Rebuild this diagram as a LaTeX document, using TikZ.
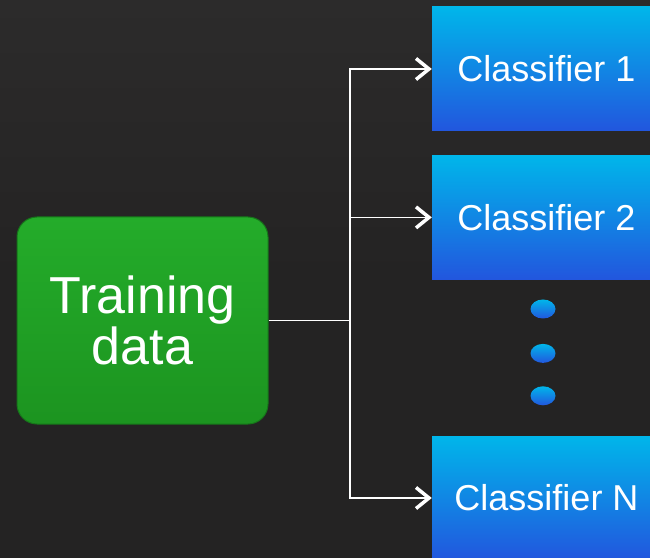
\documentclass[tikz,border=0pt]{standalone}
\usepackage{fontspec}
\setmainfont{Liberation Sans}
\usepackage{tikz}
\usepackage{xcolor}
\definecolor{back}{RGB}{36,35,35}
\definecolor{backtop}{RGB}{44,43,43}
\definecolor{greentop}{RGB}{36,172,42}
\definecolor{greenbot}{RGB}{28,148,32}
\definecolor{greenedge}{RGB}{22,118,26}
\definecolor{bluetop}{RGB}{0,182,234}
\definecolor{bluebot}{RGB}{34,86,222}
\usetikzlibrary{positioning, calc, shapes.geometric, arrows.meta}
\tikzstyle{Data} = [
draw=greenedge, line width=1pt,
rounded corners=20pt,
top color=greentop, bottom color=greenbot,
minimum width=251pt, minimum height=207pt,
text=white, align=center,
font=\fontsize{52}{51}\selectfont]
\tikzstyle{Classifier} = [
top color=bluetop, bottom color=bluebot,
minimum width=229pt, minimum height=124pt, inner sep=0pt,
text=white, font=\fontsize{36}{40}\selectfont]
\tikzstyle{Dot} = [
ellipse, top color=bluetop, bottom color=bluebot,
minimum width=25pt, minimum height=19pt, inner sep=0pt]
\tikzstyle{Link} = [white, line width=1.5pt]
\tikzstyle{Arrow} = [Link,
-{Straight Barb[length=13pt, width=21pt, line width=3.5pt]}]

\begin{document}
\begin{tikzpicture}[x=1pt, y=1pt]
    \useasboundingbox (0,0) rectangle (650,557);
    \shade[top color=backtop, bottom color=back, middle color=back] (0,0) rectangle (650,557);

    \node [Data] (data) at (142.5,236.5) {Training\\data};
    \node [Classifier] (c1) at (546.5,488) {Classifier 1};
    \node [Classifier, below=24pt of c1] (c2) {Classifier 2};
    \node [Classifier] (cN) at (546.5,59) {Classifier N};
    \node [Dot] (d1) at (543,248) {};
    \node [Dot, below=25pt of d1] (d2) {};
    \node [Dot, below=23pt of d2] (d3) {};
    \coordinate (split) at (350,236.5);

    \draw[Link] (data.east) -- (split);
    \draw[Arrow] (split) |- (c1.west);
    \draw[Arrow] (split) |- (c2.west);
    \draw[Arrow] (split) |- (cN.west);
\end{tikzpicture}
\end{document}
